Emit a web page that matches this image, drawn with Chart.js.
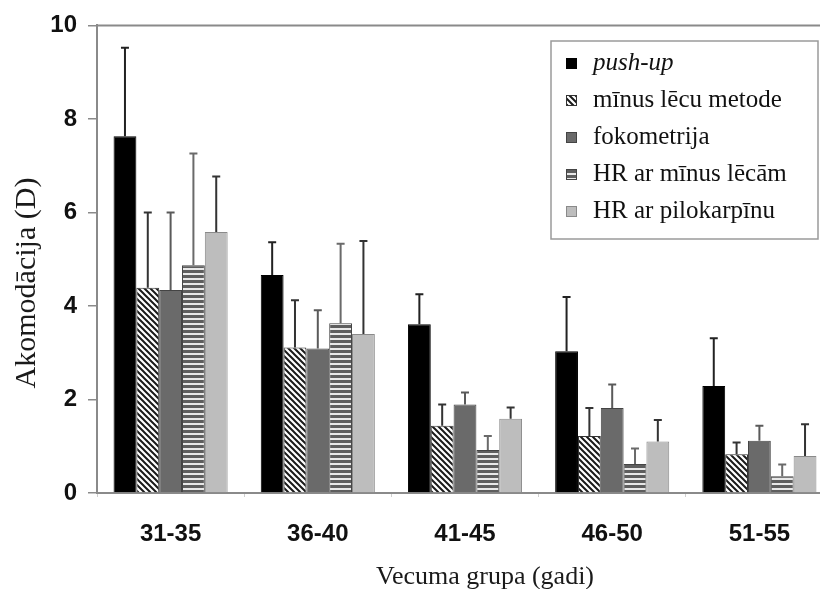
<!DOCTYPE html>
<html>
<head>
<meta charset="utf-8">
<script src="https://cdn.jsdelivr.net/npm/chart.js@4"></script>
<style>
  html, body { margin: 0; padding: 0; background: #fff; overflow: hidden; }
  #wrap { width: 820px; height: 589px; overflow: hidden; }
</style>
</head>
<body>
<div id="wrap"><canvas id="accChart" width="840" height="589"></canvas></div>
<script>
// ===== DATA: accommodation amplitude by age group, per method =====
const ageGroups = ['31-35', '36-40', '41-45', '46-50', '51-55'];
const methodNames = ['push-up', 'mīnus lēcu metode', 'fokometrija', 'HR ar mīnus lēcām', 'HR ar pilokarpīnu'];

// mean values (D)
const pushUp     = [7.63, 4.66, 3.61, 3.03, 2.29];
const minusLens  = [4.39, 3.11, 1.44, 1.22, 0.83];
const focometry  = [4.34, 3.09, 1.89, 1.82, 1.12];
const hrMinus    = [4.87, 3.63, 0.92, 0.62, 0.36];
const hrPilo     = [5.58, 3.40, 1.59, 1.10, 0.79];

// upper end of the error bars (D)
const pushUpErr    = [9.52, 5.36, 4.25, 4.19, 3.31];
const minusLensErr = [6.00, 4.12, 1.89, 1.82, 1.08];
const focometryErr = [6.00, 3.91, 2.15, 2.32, 1.44];
const hrMinusErr   = [7.26, 5.33, 1.22, 0.95, 0.61];
const hrPiloErr    = [6.77, 5.39, 1.83, 1.56, 1.47];

const yTicks = [0, 2, 4, 6, 8, 10];

// ===== FILL PATTERNS =====
function makeTile(w, h, paint) {
  const c = document.createElement('canvas');
  c.width = w; c.height = h;
  const g = c.getContext('2d');
  paint(g, w, h);
  return document.createElement('canvas').getContext('2d').createPattern(c, 'repeat');
}

const diagHatch = makeTile(6, 6, (g, w, h) => {
  g.fillStyle = '#ffffff';
  g.fillRect(0, 0, w, h);
  g.strokeStyle = '#1a1a1a';
  g.lineWidth = 2;
  g.beginPath();
  g.moveTo(-1, -1); g.lineTo(w + 1, h + 1);
  g.moveTo(-1 - w, -1); g.lineTo(1, h + 1);
  g.moveTo(w - 1, -1); g.lineTo(2 * w + 1, h + 1);
  g.stroke();
});

const hStripes = makeTile(4, 5, (g, w, h) => {
  g.fillStyle = '#5e5e5e';
  g.fillRect(0, 0, w, h);
  g.fillStyle = '#e8e8e8';
  g.fillRect(0, 3, w, 2);
});

const fills   = ['#000000', diagHatch, '#6a6a6a', hStripes, '#bdbdbd'];
const borders = ['#000000', '#333333', '#444444', '#444444', '#8a8a8a'];
const errColors = ['#222222', '#333333', '#5a5a5a', '#6a6a6a', '#333333'];
const seriesVals = [pushUp, minusLens, focometry, hrMinus, hrPilo];
const seriesErr  = [pushUpErr, minusLensErr, focometryErr, hrMinusErr, hrPiloErr];

// ===== PLUGINS =====
// frame: top and right edges of the plot box
const frame = {
  id: 'frame',
  beforeDatasetsDraw(chart) {
    const { ctx, chartArea: a } = chart;
    ctx.save();
    ctx.strokeStyle = '#8a8a8a';
    ctx.lineWidth = 2;
    ctx.beginPath();
    ctx.moveTo(a.left, a.top);
    ctx.lineTo(a.right, a.top);
    ctx.lineTo(a.right, a.bottom);
    ctx.stroke();
    ctx.restore();
  }
};

// error bars drawn upward from each bar top
const errorBars = {
  id: 'errorBars',
  afterDatasetsDraw(chart) {
    const { ctx } = chart;
    const yScale = chart.scales.y;
    ctx.save();
    chart.data.datasets.forEach((ds, i) => {
      const meta = chart.getDatasetMeta(i);
      meta.data.forEach((bar, j) => {
        const yTop = yScale.getPixelForValue(ds.errUpper[j]);
        ctx.strokeStyle = errColors[i];
        ctx.lineWidth = 2;
        ctx.beginPath();
        ctx.moveTo(bar.x, bar.y);
        ctx.lineTo(bar.x, yTop);
        ctx.moveTo(bar.x - 4, yTop);
        ctx.lineTo(bar.x + 4, yTop);
        ctx.stroke();
      });
    });
    ctx.restore();
  }
};

// legend box inside the plot, upper right
const boxLegend = {
  id: 'boxLegend',
  afterDraw(chart) {
    const { ctx } = chart;
    const bx = 551, by = 41, bw = 267, bh = 198;
    ctx.save();
    ctx.fillStyle = '#ffffff';
    ctx.fillRect(bx, by, bw, bh);
    ctx.strokeStyle = '#9a9a9a';
    ctx.lineWidth = 1.5;
    ctx.strokeRect(bx, by, bw, bh);
    chart.data.datasets.forEach((ds, i) => {
      const cy = 63 + i * 37;
      ctx.fillStyle = ds.backgroundColor;
      ctx.fillRect(566, cy - 5, 11, 11);
      ctx.strokeStyle = ds.borderColor;
      ctx.lineWidth = 1;
      ctx.strokeRect(566.5, cy - 4.5, 10, 10);
      ctx.fillStyle = '#111111';
      ctx.textBaseline = 'middle';
      ctx.textAlign = 'left';
      ctx.font = (i === 0 ? 'italic ' : '') + '25px "Liberation Serif", "Times New Roman", serif';
      ctx.fillText(ds.label, 593, cy);
    });
    ctx.restore();
  }
};

// axis titles
const axisTitles = {
  id: 'axisTitles',
  afterDraw(chart) {
    const { ctx } = chart;
    ctx.save();
    ctx.fillStyle = '#1a1a1a';
    ctx.textAlign = 'center';
    ctx.textBaseline = 'middle';
    ctx.font = '26px "Liberation Serif", "Times New Roman", serif';
    ctx.fillText('Vecuma grupa (gadi)', 485, 577);
    ctx.translate(27, 283);
    ctx.rotate(-Math.PI / 2);
    ctx.font = '30px "Liberation Serif", "Times New Roman", serif';
    ctx.fillText('Akomodācija (D)', 0, 0);
    ctx.restore();
  }
};

// ===== CHART =====
new Chart(document.getElementById('accChart'), {
  type: 'bar',
  data: {
    labels: ageGroups,
    datasets: methodNames.map((name, i) => ({
      label: name,
      data: seriesVals[i],
      errUpper: seriesErr[i],
      backgroundColor: fills[i],
      borderColor: borders[i],
      borderWidth: 1,
      borderSkipped: 'bottom',
      categoryPercentage: 0.775,
      barPercentage: 1.0
    }))
  },
  options: {
    responsive: false,
    devicePixelRatio: 1,
    animation: false,
    layout: { padding: { top: 25, right: 7, left: 0, bottom: 0 } },
    plugins: {
      legend: { display: false },
      tooltip: { enabled: false }
    },
    scales: {
      x: {
        grid: { drawOnChartArea: false, tickLength: 4, color: '#cfcfcf', lineWidth: 1 },
        border: { color: '#8a8a8a', width: 2 },
        ticks: { color: '#111111', font: { family: '"Liberation Sans", Arial, sans-serif', size: 24, weight: 'bold' }, padding: 23 },
        afterFit: s => { s.height = 96; }
      },
      y: {
        min: 0, max: 10,
        afterBuildTicks: s => { s.ticks = yTicks.map(v => ({ value: v })); },
        grid: { drawOnChartArea: false, tickLength: 9, color: '#8a8a8a', lineWidth: 1.5 },
        border: { color: '#8a8a8a', width: 2 },
        ticks: { color: '#111111', font: { family: '"Liberation Sans", Arial, sans-serif', size: 24, weight: 'bold' }, padding: 11 },
        afterFit: s => { s.width = 97; }
      }
    }
  },
  plugins: [frame, errorBars, boxLegend, axisTitles]
});
</script>
</body>
</html>
